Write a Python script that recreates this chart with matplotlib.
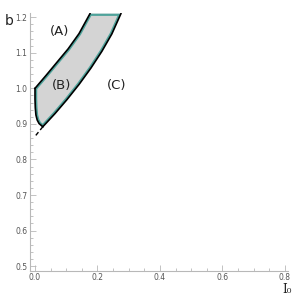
import numpy as np
import matplotlib.pyplot as plt
from matplotlib.patches import Polygon
from matplotlib.ticker import MultipleLocator

# --- data (I0, b) ---
upper_x = [0.0, 0.035, 0.070, 0.106, 0.141, 0.176]
upper_b = [1.0, 1.036, 1.073, 1.111, 1.154, 1.210]

right_x = [0.025, 0.064, 0.102, 0.141, 0.179, 0.214, 0.246, 0.275]
right_b = [0.892, 0.929, 0.968, 1.011, 1.057, 1.104, 1.153, 1.210]

left_x = [0.0, 0.0, 0.001, 0.003, 0.007, 0.013, 0.025]
left_b = [1.0, 0.970, 0.945, 0.925, 0.911, 0.901, 0.892]

dash_x = [0.025, 0.001]
dash_b = [0.892, 0.866]

region_labels = ["(A)", "(B)", "(C)"]
label_x = [0.080, 0.086, 0.262]
label_b = [1.159, 1.008, 1.008]

TEAL = "#4fa39b"
GRAY = "#d4d4d4"
AXC = "#b8b8b8"

fig = plt.figure(figsize=(3.0, 2.95), dpi=100)
ax = fig.add_axes([0.1, 0.081, 0.86, 0.875])

# region (B): upper curve -> along top -> right curve down -> left curve up
px = upper_x + right_x[::-1] + left_x[::-1]
py = upper_b + right_b[::-1] + left_b[::-1]
verts = np.column_stack([px, py])

fill = Polygon(verts, closed=True, facecolor=GRAY, edgecolor="none", zorder=1)
ax.add_patch(fill)
edge = Polygon(verts, closed=True, facecolor="none", edgecolor=TEAL, lw=3.2,
               joinstyle="round", zorder=2)
ax.add_patch(edge)
edge.set_clip_path(fill)

for xs, ys in [(upper_x, upper_b), (right_x, right_b), (left_x, left_b)]:
    ax.plot(xs, ys, color="black", lw=1.2, solid_joinstyle="round", zorder=3)
ax.plot(dash_x, dash_b, color="black", lw=1.0, ls=(0, (3, 2)), zorder=3)

for t, x, y in zip(region_labels, label_x, label_b):
    ax.text(x, y, t, ha="center", va="center", fontsize=9.5, color="#222222")

ax.set_xlim(-0.016, 0.81)
ax.set_ylim(0.486, 1.212)

for s in ["top", "right"]:
    ax.spines[s].set_visible(False)
for s in ["left", "bottom"]:
    ax.spines[s].set_color(AXC)
    ax.spines[s].set_linewidth(0.8)

ax.xaxis.set_major_locator(MultipleLocator(0.2))
ax.xaxis.set_minor_locator(MultipleLocator(0.05))
ax.yaxis.set_major_locator(MultipleLocator(0.1))
ax.yaxis.set_minor_locator(MultipleLocator(0.02))
ax.tick_params(which="both", direction="in", color=AXC, labelsize=5.5,
               labelcolor="#555555", width=0.6, pad=2)
ax.tick_params(axis="x", pad=1.5)
ax.tick_params(which="major", length=4)
ax.tick_params(which="minor", length=2)
ax.xaxis.set_major_formatter(plt.FuncFormatter(lambda v, p: f"{v:.1f}"))
ax.yaxis.set_major_formatter(plt.FuncFormatter(lambda v, p: f"{v:.1f}"))

fig.text(0.03, 0.93, "b", fontsize=10, color="#222222", ha="center", va="center")
fig.text(0.958, 0.008, "I\u2080", fontsize=8.5, color="#222222", ha="center",
         va="baseline", family="DejaVu Serif")

fig.savefig("out.png", dpi=100)
